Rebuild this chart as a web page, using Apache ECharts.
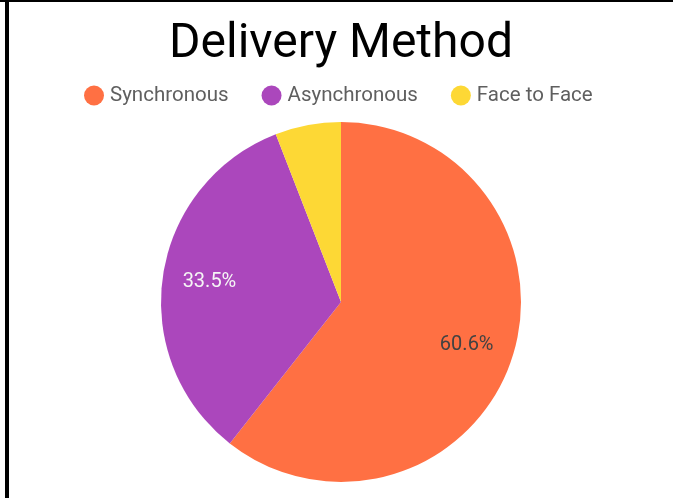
<!DOCTYPE html>
<html>
<head>
<meta charset="utf-8">
<script src="https://cdn.jsdelivr.net/npm/echarts@6/dist/echarts.min.js"></script>
<style>
  html, body { margin: 0; padding: 0; background: #fff; }
  #chart { width: 673px; height: 498px; }
</style>
</head>
<body>
<div id="chart"></div>
<script>
// data
const categories = ['Synchronous', 'Asynchronous', 'Face to Face'];
const shares = [60.6, 33.5, 5.9];

// styles
const sliceColors = ['#FF7043', '#AB47BC', '#FDD835'];
const labelColors = ['#424242', '#F5F5F5', '#424242'];

const chart = echarts.init(document.getElementById('chart'));

const pieData = categories.map((name, i) => ({
    name,
    value: shares[i],
    itemStyle: { color: sliceColors[i] },
    label: { color: labelColors[i] },
}));

chart.setOption({
    backgroundColor: '#fff',
    animation: false,
    title: {
        text: 'Delivery Method',
        left: 169,
        top: 21,
        padding: 0,
        textStyle: {
            fontFamily: 'Roboto',
            fontSize: 48,
            fontWeight: 'normal',
            color: '#000',
        },
    },
    legend: {
        data: categories,
        top: 85,
        left: 84,
        padding: 0,
        icon: 'circle',
        itemWidth: 22,
        itemHeight: 20,
        itemGap: 33,
        textStyle: { fontFamily: 'Roboto', fontSize: 20.5, color: '#5f5f5f' },
    },
    graphic: [
        { type: 'rect', left: 0, top: 0, shape: { width: 673, height: 2 }, style: { fill: '#000' } },
        { type: 'rect', left: 5, top: 0, shape: { width: 4, height: 498 }, style: { fill: '#000' } },
    ],
    series: [
        {
            // slices
            type: 'pie',
            center: [341, 302],
            radius: 180,
            startAngle: 90,
            clockwise: true,
            percentPrecision: 1,
            label: { show: false },
            labelLine: { show: false },
            data: pieData,
        },
        {
            // percentage labels, placed at the ring midpoint
            type: 'pie',
            silent: true,
            center: [341, 302],
            radius: [80, 180],
            startAngle: 90,
            clockwise: true,
            percentPrecision: 1,
            itemStyle: { color: 'rgba(0,0,0,0)' },
            label: {
                show: true,
                position: 'inner',
                fontFamily: 'Roboto',
                fontSize: 20,
                formatter: p => (p.percent < 10 ? '' : p.percent.toFixed(1) + '%'),
            },
            labelLine: { show: false },
            data: pieData.map(d => ({ name: d.name, value: d.value, label: d.label, itemStyle: { color: 'rgba(0,0,0,0)' } })),
        },
    ],
});
</script>
</body>
</html>
